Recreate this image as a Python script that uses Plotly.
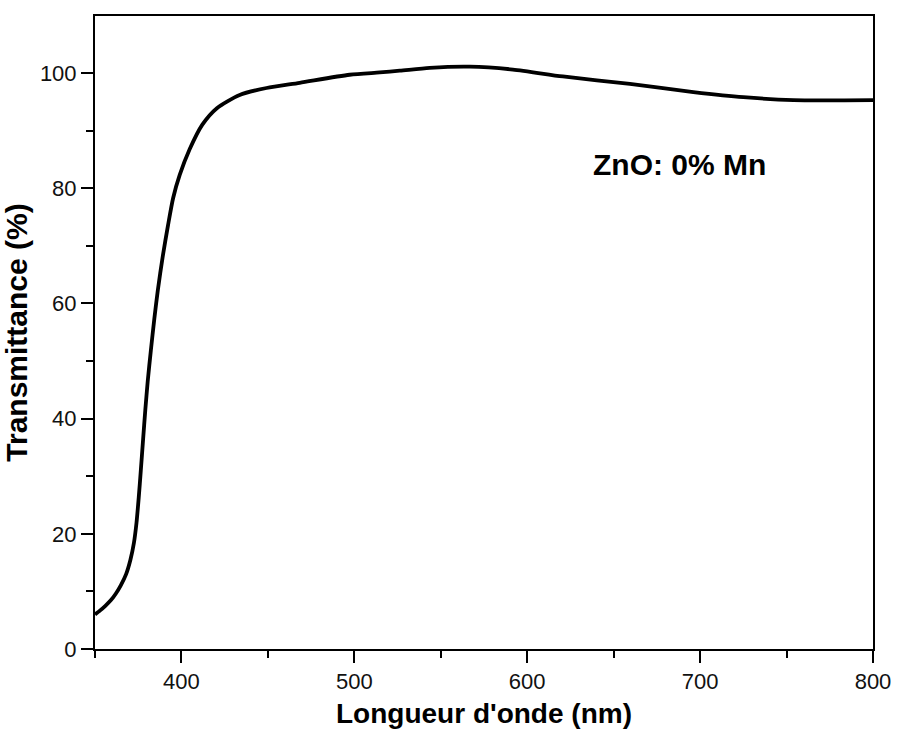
import plotly.graph_objects as go

wavelength_nm = [350, 353, 356, 359, 362, 365, 368, 370.5, 372.5, 374, 375.3, 376.5, 377.8,
                 379.1, 380.5, 382.3, 384.3, 386.3, 389.2, 392.2, 395.2, 399, 404.8,
                 412, 420.5, 433.7, 449.2, 468.4, 497.3, 514.7, 526.3, 543.6, 566.8,
                 591.7, 620.6, 659.4, 696.1, 725, 754, 800]
transmittance = [6.0, 6.7, 7.5, 8.4, 9.6, 11.1, 13.0, 15.5, 18.4, 21.9, 26.3, 31.0, 36.3,
                 41.5, 46.5, 51.8, 57.3, 62.2, 68.2, 73.5, 78.3, 82.3, 86.8,
                 91.0, 93.9, 96.2, 97.4, 98.3, 99.7, 100.1, 100.4, 100.9, 101.1,
                 100.6, 99.4, 98.1, 96.7, 95.8, 95.3, 95.3]

x_ticks = [400, 500, 600, 700, 800]
y_ticks = [0, 20, 40, 60, 80, 100]
label_text = "ZnO: 0% Mn"

fig = go.Figure()
fig.add_trace(go.Scatter(
    x=wavelength_nm, y=transmittance, mode="lines",
    line=dict(color="black", width=3.8, shape="spline", smoothing=0.7),
    showlegend=False,
))

font_family = "Liberation Sans, Arial, sans-serif"
axis_common = dict(
    showgrid=False, zeroline=False, showline=True, linecolor="black",
    linewidth=2, mirror=True, ticks="outside", ticklen=12, tickwidth=2,
    tickcolor="black", tickfont=dict(family=font_family, size=22, color="#111"),
    automargin=False,
)

fig.update_xaxes(
    range=[350, 800], tickvals=x_ticks,
    minor=dict(dtick=50, tick0=350, ticklen=7, tickwidth=2, tickcolor="black", ticks="outside"),
    title=dict(text="<b>Longueur d'onde (nm)</b>", font=dict(family=font_family, size=28, color="black")),
    **axis_common,
)
fig.update_yaxes(
    range=[0, 109.9], tickvals=y_ticks,
    minor=dict(dtick=10, tick0=0, ticklen=7, tickwidth=2, tickcolor="black", ticks="outside"),
    title=dict(text="<b>Transmittance (%)</b>", font=dict(family=font_family, size=30, color="black")),
    **axis_common,
)

fig.add_annotation(
    x=688, y=84.1, xref="x", yref="y", text="<b>" + label_text + "</b>",
    showarrow=False, xanchor="center", yanchor="middle",
    font=dict(family=font_family, size=30, color="black"),
)

fig.update_layout(
    width=898, height=729,
    margin=dict(l=95, r=25, t=16, b=80),
    plot_bgcolor="white", paper_bgcolor="white",
)

fig.write_html("out.html")
